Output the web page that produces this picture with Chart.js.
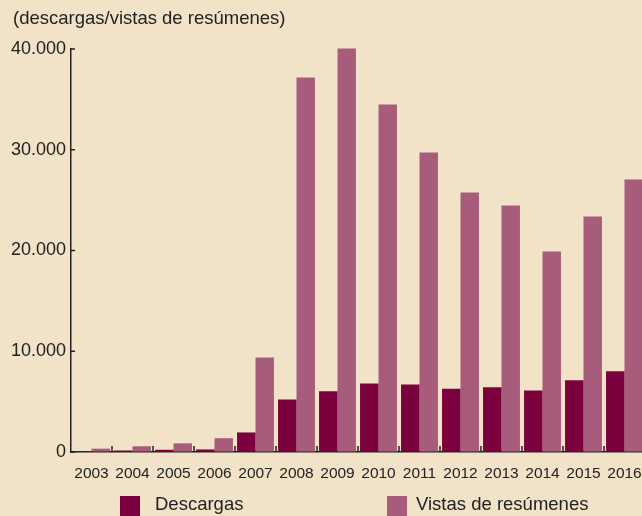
<!DOCTYPE html>
<html>
<head>
<meta charset="utf-8">
<script src="https://cdn.jsdelivr.net/npm/chart.js@4.4.1/dist/chart.umd.min.js"></script>
<style>
  html, body { margin: 0; padding: 0; background: #f1e2c8; overflow: hidden; }
  #wrap { position: relative; width: 642px; height: 516px; overflow: hidden; }
  canvas { position: absolute; left: 0; top: 0; }
  .txt { position: absolute; font-family: "Liberation Sans", Arial, Helvetica, sans-serif; font-size: 18.5px; line-height: 20px; color: #222; white-space: nowrap; }
  .box { position: absolute; width: 20px; height: 20px; }
</style>
</head>
<body>
<div id="wrap">
  <canvas id="barChart" width="660" height="516"></canvas>
  <div class="txt" style="left:13px; top:8px;">(descargas/vistas de resúmenes)</div>
  <div class="box" style="left:120px; top:496px; background:#7a003e;"></div>
  <div class="txt" style="left:155px; top:494px;">Descargas</div>
  <div class="box" style="left:387px; top:496px; background:#a85c7c;"></div>
  <div class="txt" style="left:416px; top:494px;">Vistas de resúmenes</div>
</div>
<script>
var years = ['2003', '2004', '2005', '2006', '2007', '2008', '2009', '2010', '2011', '2012', '2013', '2014', '2015', '2016'];
var descargas = [100, 150, 220, 250, 1940, 5210, 6040, 6800, 6700, 6270, 6430, 6100, 7130, 8020];
var vistas = [330, 570, 860, 1370, 9380, 37170, 40050, 34490, 29730, 25760, 24470, 19900, 23370, 27050];
var yTicks = [0, 10000, 20000, 30000, 40000];

function fmt(v) {
  return String(v).replace(/\B(?=(\d{3})+(?!\d))/g, '.');
}

// small inward tick marks on both axes
var innerTicks = {
  id: 'innerTicks',
  afterDatasetsDraw: function (chart) {
    var ctx = chart.ctx, x = chart.scales.x, y = chart.scales.y, area = chart.chartArea;
    ctx.save();
    ctx.strokeStyle = '#222';
    ctx.lineWidth = 1.5;
    ctx.beginPath();
    yTicks.forEach(function (v) {
      var py = y.getPixelForValue(v);
      ctx.moveTo(area.left, py);
      ctx.lineTo(area.left + 4, py);
    });
    for (var i = 1; i < years.length; i++) {
      var px = (x.getPixelForValue(i - 1) + x.getPixelForValue(i)) / 2;
      ctx.moveTo(px, area.bottom);
      ctx.lineTo(px, area.bottom - 6);
    }
    ctx.stroke();
    ctx.restore();
  }
};

var ctx = document.getElementById('barChart').getContext('2d');

var data = {
  labels: years,
  datasets: [{
    label: 'Descargas',
    data: descargas,
    backgroundColor: '#7a003e',
    categoryPercentage: 0.9,
    barPercentage: 1.0,
    clip: false
  }, {
    label: 'Vistas de resúmenes',
    data: vistas,
    backgroundColor: '#a85c7c',
    categoryPercentage: 0.9,
    barPercentage: 1.0,
    clip: false
  }]
};

var options = {
  responsive: false,
  animation: false,
  devicePixelRatio: 1,
  layout: { padding: { top: 49, right: 15, bottom: 0, left: 0 } },
  plugins: {
    legend: { display: false },
    title: { display: false },
    tooltip: { enabled: false }
  },
  scales: {
    x: {
      grid: { color: 'rgba(0,0,0,0)', drawTicks: false },
      border: { display: true, color: '#222', width: 1.5 },
      ticks: {
        color: '#222',
        padding: 12,
        maxRotation: 0,
        autoSkip: false,
        font: { family: '"Liberation Sans", Arial, sans-serif', size: 15.5 }
      },
      afterFit: function (scale) {
        scale.height = 64;
        scale.paddingLeft = 0;
        scale.paddingRight = 0;
      }
    },
    y: {
      min: 0,
      max: 40000,
      grid: { color: 'rgba(0,0,0,0)', drawTicks: false },
      border: { display: true, color: '#222', width: 1.5 },
      ticks: {
        stepSize: 10000,
        color: '#222',
        padding: 5,
        font: { family: '"Liberation Sans", Arial, sans-serif', size: 18 },
        callback: function (v) { return fmt(v); }
      },
      afterFit: function (scale) {
        scale.width = 71;
        scale.paddingTop = 0;
        scale.paddingBottom = 0;
      }
    }
  }
};

var myBarChart = new Chart(ctx, {
  type: 'bar',
  data: data,
  options: options,
  plugins: [innerTicks]
});
</script>
</body>
</html>
